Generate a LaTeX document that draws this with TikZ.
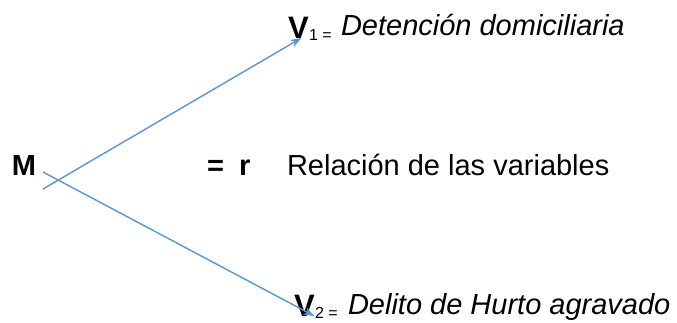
\documentclass[tikz,border=0pt]{standalone}
\usepackage{fontspec}
\setmainfont{Liberation Sans}
\usetikzlibrary{arrows.meta,calc}
\definecolor{lineblue}{RGB}{86,150,212}
\tikzset{
  lbl/.style={anchor=base west, inner sep=0pt, outer sep=0pt},
  vname/.style={lbl, font=\fontsize{31}{34}\selectfont\bfseries},
  subs/.style={lbl, font=\fontsize{16}{18}\selectfont},
  arr/.style={draw=lineblue, line width=1.4pt, -{Stealth[length=11pt,width=8pt]}}
}

\begin{document}
\begin{tikzpicture}[x=1pt, y=1pt, font=\fontsize{29}{33}\selectfont]
\useasboundingbox (0,0) rectangle (677,-322);
\node[lbl] (m) at (12,-175) {\textbf{M}};
\node[lbl] (eq) at (207,-175) {\textbf{=}};
\node[lbl] (r) at (239,-175) {\textbf{r}};
\node[lbl] (rel) at (287,-175) {Relación de las variables};
% variable 1
\node[vname] (v1) at (288,-38) {V};
\node[subs] (s1) at (309,-40) {1 =};
\node[lbl] (d1) at (341,-35) {\textit{Detención domiciliaria}};
% variable 2
\node[vname] (v2) at (294,-316) {V};
\node[subs] (s2) at (315,-318) {2 =};
\node[lbl] (d2) at (348,-314) {\textit{Delito de Hurto agravado}};
% arrows
\coordinate (a1) at (43,-189);
\coordinate (a2) at (43,-172);
\draw[arr] (a1) -- ($(v1.south)+(3,0)$);
\draw[arr] (a2) -- ($(v2.south)+(10,0)$);
\end{tikzpicture}
\end{document}
